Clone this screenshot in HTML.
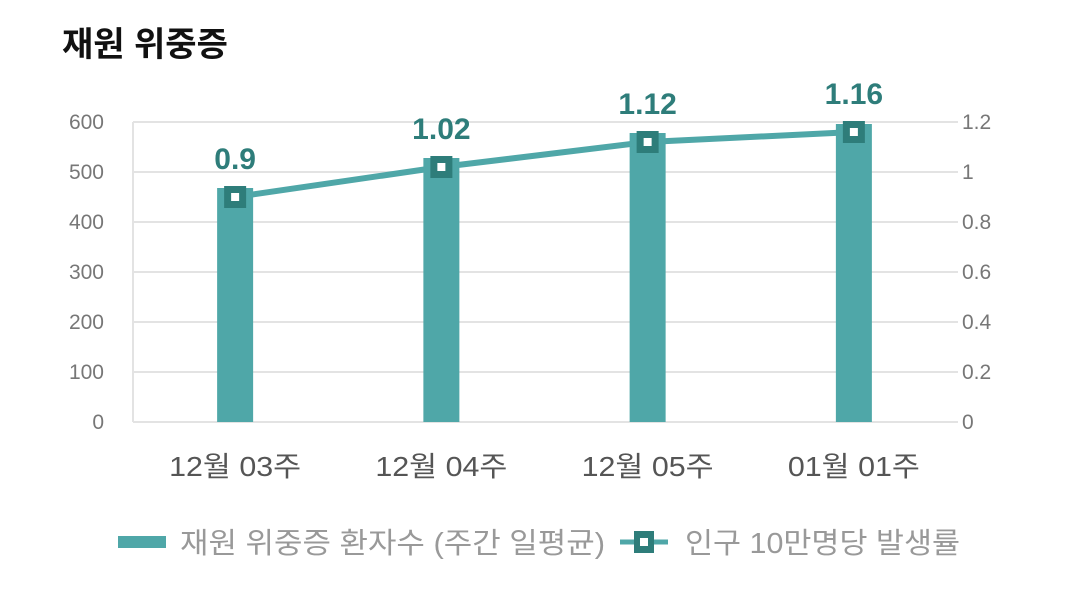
<!DOCTYPE html>
<html><head><meta charset="utf-8"><style>
body{margin:0;width:1080px;height:603px;background:#fff;font-family:"Liberation Sans","Noto Sans CJK KR",sans-serif;overflow:hidden}
</style></head><body>
<svg width="1080" height="603">
<text x="62" y="56" font-size="34" font-weight="bold" fill="#111" font-family="Liberation Sans, Noto Sans CJK KR, sans-serif">재원 위중증</text>
<g id="grid"></g><g id="bars"></g><g id="line"></g><g id="labels"></g>
<g>
<rect x="118" y="536" width="48" height="12" fill="#4fa7a8"/>
<text x="180" y="553" font-size="29" fill="#999" textLength="425" lengthAdjust="spacingAndGlyphs">재원 위중증 환자수 (주간 일평균)</text>
<line x1="620" y1="542" x2="668" y2="542" stroke="#4fa7a8" stroke-width="5"/>
<rect x="634" y="531" width="20" height="22" fill="#2e7d7a"/>
<rect x="640" y="538" width="8" height="8" fill="#fff"/>
<text x="685" y="553" font-size="29" fill="#999" textLength="275" lengthAdjust="spacingAndGlyphs">인구 10만명당 발생률</text>
</g>
</svg>
<script>
const categories=["12월 03주","12월 04주","12월 05주","01월 01주"];
const patients=[468,528,578,596];
const rates=[0.9,1.02,1.12,1.16];
const leftTicks=[0,100,200,300,400,500,600];
const rightTicks=["0","0.2","0.4","0.6","0.8","1","1.2"];
const NS="http://www.w3.org/2000/svg";
const x0=133,x1=958,yB=422,yT=122;
const yL=v=>yB-(v/600)*(yB-yT);
const yR=v=>yB-(v/1.2)*(yB-yT);
const bw=(x1-x0)/categories.length;
const xc=i=>x0+bw*(i+0.5)-1;
function mk(t,a,p){const e=document.createElementNS(NS,t);for(const k in a)e.setAttribute(k,a[k]);p.appendChild(e);return e;}
const grid=document.getElementById('grid'),bars=document.getElementById('bars'),line=document.getElementById('line'),labels=document.getElementById('labels');
leftTicks.forEach((t,i)=>{
 const y=yL(t);
 const g=mk('line',{x1:x0,x2:x1,y1:y,y2:y,stroke:'#e3e3e3','stroke-width':2},grid);
 
 
 const a=mk('text',{x:104,y:y+7,'font-size':21,fill:'#777','text-anchor':'end'},grid);a.textContent=t;
 
 
 const b=mk('text',{x:962,y:y+7,'font-size':21,fill:'#777'},grid);b.textContent=rightTicks[i];
 
 
});
const ax=mk('line',{x1:x0,x2:x0,y1:yT,y2:yB,stroke:'#e3e3e3','stroke-width':2},grid);


categories.forEach((c,i)=>{
 const r=mk('rect',{x:xc(i)-18,y:yL(patients[i]),width:36,height:yB-yL(patients[i]),fill:'#4fa7a8'},bars);
 
 
 const t=mk('text',{x:xc(i),y:476,'font-size':28,fill:'#555','text-anchor':'middle',textLength:132,lengthAdjust:'spacingAndGlyphs'},labels);t.textContent=c;
 
 
});
const pl=mk('polyline',{points:rates.map((v,i)=>xc(i)+','+yR(v)).join(' '),fill:'none',stroke:'#4fa7a8','stroke-width':6},line);


rates.forEach((v,i)=>{
 const y=yR(v);
 const m=mk('rect',{x:xc(i)-11,y:y-11,width:22,height:22,fill:'#2e7d7a'},line);
 
 
 const w=mk('rect',{x:xc(i)-4,y:y-4,width:8,height:8,fill:'#fff'},line);
 
 
 const t=mk('text',{x:xc(i),y:y-28,'font-size':30,'font-weight':'bold',fill:'#2e7d7a','text-anchor':'middle'},labels);t.textContent=v;
 
 
});
</script>
</body></html>
